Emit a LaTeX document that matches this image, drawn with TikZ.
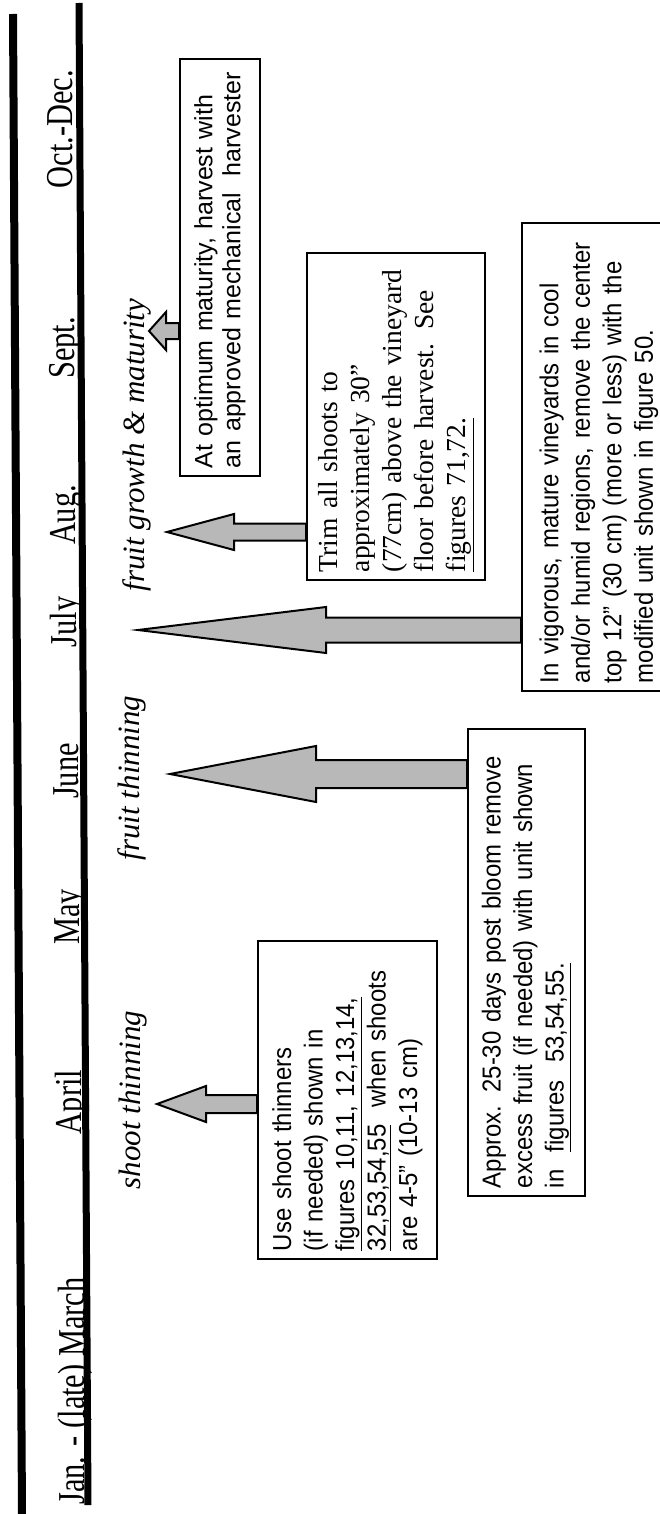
\documentclass[tikz,border=0pt]{standalone}
\usepackage{fontspec}
\setmainfont{Liberation Serif}
\newfontfamily\monthfont[FakeStretch=0.8]{Liberation Serif}
\newfontfamily\narrowsans[FakeStretch=0.92]{Liberation Sans}
\newfontfamily\plainsans{Liberation Sans}
\usetikzlibrary{calc}
\begin{document}
\begin{tikzpicture}[x=1pt, y=-1pt]
  \tikzset{
    month/.style={rotate=90, anchor=base, inner sep=0pt, font=\monthfont\fontsize{38}{40}\selectfont},
    phase/.style={rotate=90, inner sep=0pt, font=\itshape\fontsize{31}{34}\selectfont},
    notebox/.style={rotate=90, draw, line width=2pt, align=left, inner sep=8pt},
    narrowbox/.style={notebox, font=\narrowsans\fontsize{26}{31.5}\selectfont},
    fatarrow/.style={draw, line width=2pt, fill=black!28}
  }
  \useasboundingbox (0,0) rectangle (660,1514);
  % header rules
  \draw[line width=8pt] (13,14) -- (22,1514);
  \draw[line width=7pt] (79,3) -- (88,1505);
  % months
  \node[month] (octdec) at (72,129) {Oct.-Dec.};
  \node[month] (sept) at (74,348) {Sept.};
  \node[month] (aug) at (75.5,515) {Aug.};
  \node[month] (july) at (76.5,622) {July};
  \node[month] (june) at (78,771) {June};
  \node[month] (may) at (79.5,917) {May};
  \node[month] (april) at (81,1102) {April};
  \node[month] (janmarch) at (84,1391) {Jan. - (late) March};
  % phases
  \node[phase] (shootlbl) at (133.5,1100) {shoot thinning};
  \node[phase] (fruitlbl) at (131.5,778) {fruit thinning};
  \node[phase] (growthlbl) at (137,445) {fruit growth \& maturity};
  % notes
  \node[narrowbox, text width=302pt, minimum height=179pt] (shootbox) at (347.5,1100)
    {Use shoot thinners\\(if needed) shown in\\\underline{figures 10,11, 12,13,14,}\\\underline{32,53,54,55}\ \ when shoots\\are 4-5” (10-13 cm)};
  \node[narrowbox, text width=451pt, minimum height=117pt] (fruitbox) at (526.5,962.5)
    {Approx. 25-30 days post bloom remove\\excess fruit (if needed) with unit shown\\in\ \ \underline{figures\ \ 53,54,55.}};
  % this one runs off the page
  \node[notebox, minimum width=468pt, minimum height=220pt] (topbox) at (632,457) {};
  \node[narrowbox, draw=none, text width=452pt] (topnote) at (600,457)
    {In vigorous, mature vineyards in cool\\and/or humid regions, remove the center\\top 12” (30 cm) (more or less) with the\\modified unit shown in \underline{figure 50.}};
  \node[notebox, font=\fontsize{27.5}{32}\selectfont, text width=311pt, minimum height=178pt] (trimbox) at (396,416.5)
    {Trim all shoots to\\approximately 30”\\(77cm) above the vineyard\\floor before harvest. See\\\underline{figures 71,72.}};
  \node[notebox, font=\plainsans\fontsize{25}{28}\selectfont, text width=401pt, minimum height=80pt] (harvestbox) at (220,267.5)
    {At optimum maturity, harvest with\\an approved mechanical\ \ harvester};
  % arrow tips
  \coordinate (shoottip) at (157,1104);
  \coordinate (fruittip) at (170,774);
  \coordinate (toptip) at (138,630);
  \coordinate (trimtip) at (167,532);
  \coordinate (harvesttip) at (149,331);
  \foreach \boxname/\tipname/\hl/\hw/\sw in {shootbox/shoottip/49/18/9, fruitbox/fruittip/146/28/14,
      topbox/toptip/188/23/12.5, trimbox/trimtip/67/18/8.5, harvestbox/harvesttip/17/19/8}{
    \coordinate (base) at (\boxname.north |- \tipname);
    \draw[fatarrow] ($(base)+(0,-\sw)$) -- ($(\tipname)+(\hl,-\sw)$) -- ($(\tipname)+(\hl,-\hw)$) -- (\tipname)
      -- ($(\tipname)+(\hl,\hw)$) -- ($(\tipname)+(\hl,\sw)$) -- ($(base)+(0,\sw)$) -- cycle;
  }
\end{tikzpicture}
\end{document}
